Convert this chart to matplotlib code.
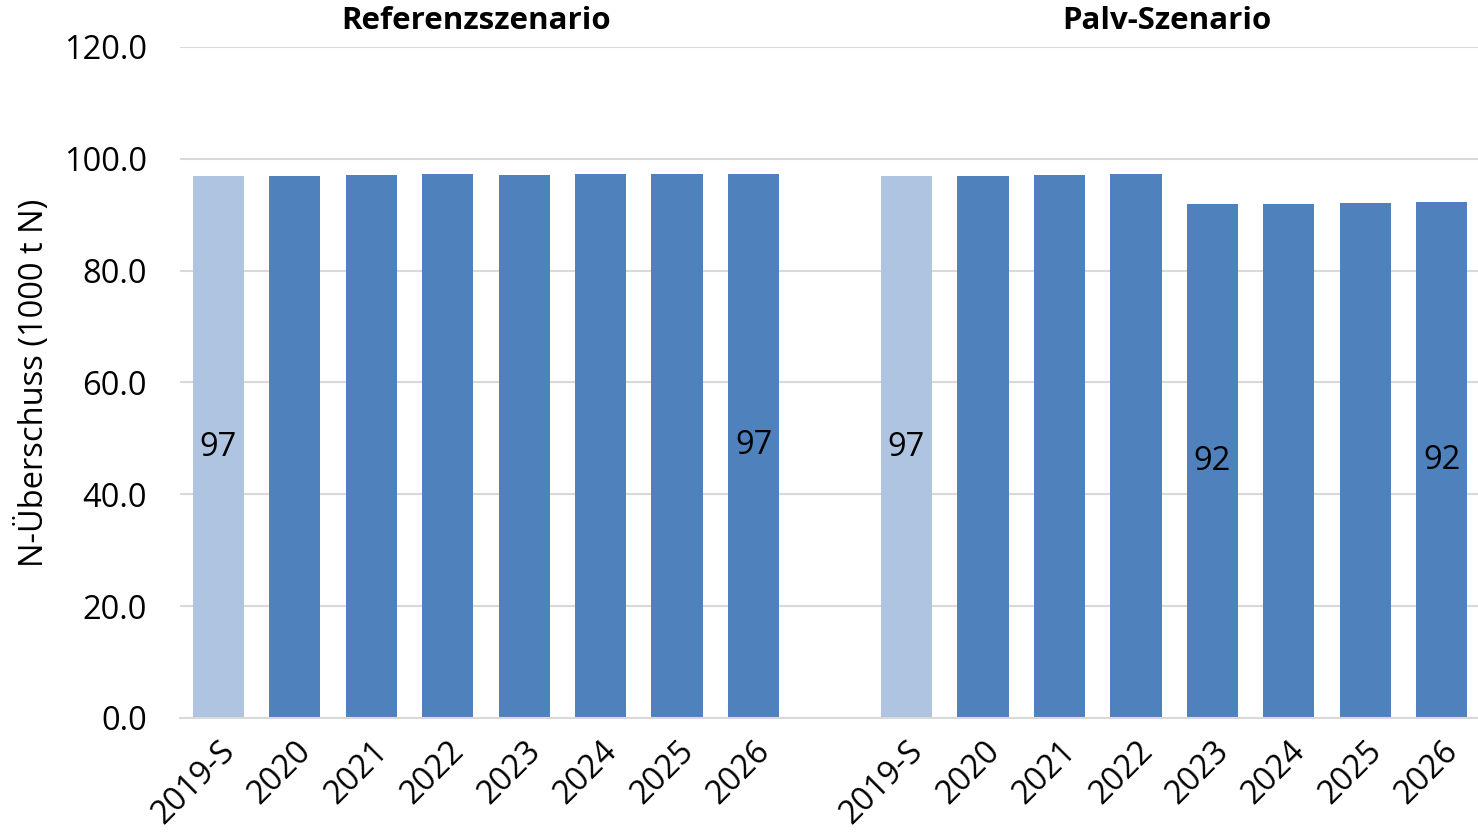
import matplotlib
matplotlib.use("Agg")
import matplotlib.pyplot as plt
import matplotlib.transforms as mtransforms

plt.rcParams['font.family'] = ['Open Sans', 'DejaVu Sans']

categories = ["2019-S", "2020", "2021", "2022", "2023", "2024", "2025", "2026"]
ref_values = [96.9, 97.0, 97.1, 97.2, 97.1, 97.2, 97.3, 97.3]
palv_values = [96.9, 97.0, 97.1, 97.2, 91.9, 92.0, 92.1, 92.2]
group_titles = ["Referenzszenario", "Palv-Szenario"]
ref_label_idx = [0, 7]
palv_label_idx = [0, 4, 7]

light = "#AEC4E1"
dark = "#4F81BD"
fs = 23.5

fig = plt.figure(figsize=(14.78, 8.4), dpi=100)
ax = fig.add_axes([180/1478, 1-718/840, 1300/1478, (718-47)/840])

n = len(categories)
ref_x = list(range(n))
palv_x = [n + 1 + i for i in range(n)]
colors = [light] + [dark] * (n - 1)
w = 0.67
ax.bar(ref_x, ref_values, width=w, color=colors, zorder=2)
ax.bar(palv_x, palv_values, width=w, color=colors, zorder=2)

for i in ref_label_idx:
    ax.text(ref_x[i], ref_values[i] / 2, f"{ref_values[i]:.0f}", ha="center", va="center", fontsize=fs, zorder=3)
for i in palv_label_idx:
    ax.text(palv_x[i], palv_values[i] / 2, f"{palv_values[i]:.0f}", ha="center", va="center", fontsize=fs, zorder=3)

ax.set_xlim(-0.5, 2 * n + 0.5)
ax.set_ylim(0, 120)
ax.set_yticks([0, 20, 40, 60, 80, 100, 120])
ax.set_yticklabels([f"{v:.1f}" for v in [0, 20, 40, 60, 80, 100, 120]], fontsize=fs)
ax.set_xticks(ref_x + palv_x)
ax.set_xticklabels(categories + categories, rotation=45, ha="right", rotation_mode="anchor", fontsize=fs)
ax.tick_params(axis="both", length=0)
ax.tick_params(axis="y", pad=24)
ax.tick_params(axis="x", pad=12)
ax.grid(axis="y", color="#D9D9D9", linewidth=1.5, zorder=0)
for s in ["top", "right", "left"]:
    ax.spines[s].set_visible(False)
ax.spines["bottom"].set_color("#D9D9D9")
ax.spines["bottom"].set_linewidth(1.5)

ax.set_ylabel("N-Überschuss (1000 t N)", fontsize=fs, va="center")
ax.yaxis.set_label_coords((34 - 180) / 1300, 0.5)

trans = mtransforms.blended_transform_factory(ax.transData, fig.transFigure)
ax.text((ref_x[0] + ref_x[-1]) / 2 - 0.13, 1 - 21/840, group_titles[0], transform=trans, ha="center", va="center", fontsize=22.5, fontweight="bold")
ax.text((palv_x[0] + palv_x[-1]) / 2 - 0.1, 1 - 21/840, group_titles[1], transform=trans, ha="center", va="center", fontsize=22.5, fontweight="bold")

fig.savefig("out.png", dpi=100)
